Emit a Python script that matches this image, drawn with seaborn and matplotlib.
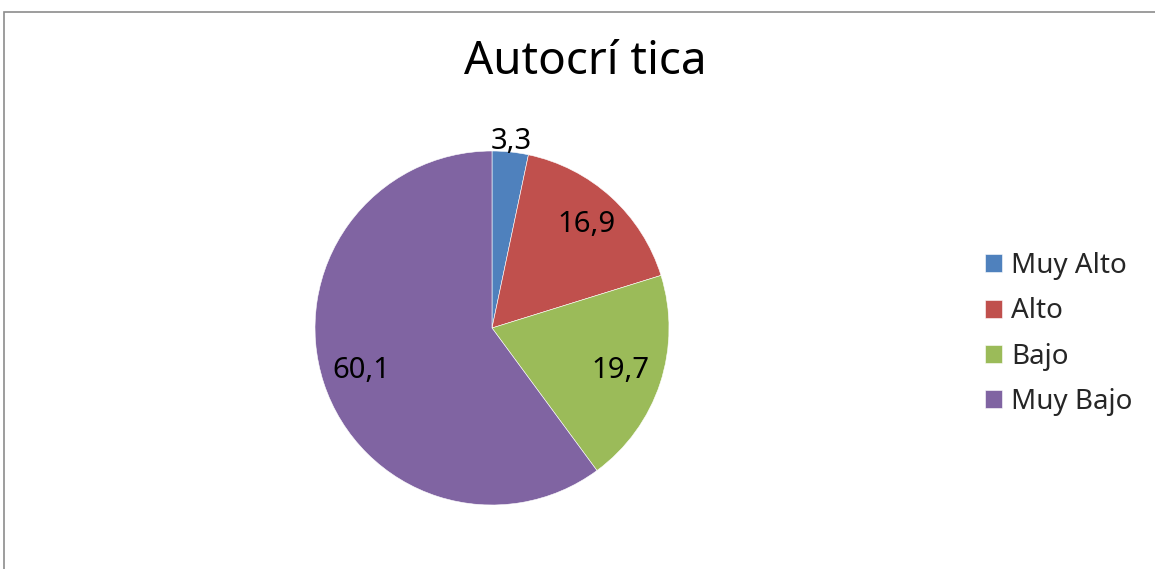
import numpy as np
import matplotlib
matplotlib.use("Agg")
import matplotlib.pyplot as plt
from matplotlib.patches import Rectangle
import seaborn as sns

# Chart data
categories = ["Muy Alto", "Alto", "Bajo", "Muy Bajo"]
values = [3.3, 16.9, 19.7, 60.1]
value_labels = ["3,3", "16,9", "19,7", "60,1"]
title = "Autocrí tica"

sns.set_theme(style="white")
plt.rcParams['font.family'] = ['Noto Sans', 'DejaVu Sans']

# Excel 2007 style palette
colors = sns.color_palette(["#4F81BD", "#C0504D", "#9BBB59", "#8064A2"])

W, H = 1155, 569
fig = plt.figure(figsize=(W / 100, H / 100), dpi=100)
fig.patch.set_facecolor("white")

# chart area border (top and left visible)
fig.patches.append(Rectangle((4 / W, -0.1), 1.2, 1 - 12 / H + 0.1,
                             transform=fig.transFigure, fill=False,
                             edgecolor="#8c8c8c", linewidth=1.2))

# pie axes: center (492, 328), radius 177 px
cx, cy, r = 492, 328, 177
ax = fig.add_axes([(cx - r) / W, 1 - (cy + r) / H, 2 * r / W, 2 * r / H])
wedges, _ = ax.pie(values, colors=colors, startangle=90, counterclock=False,
                   radius=1, wedgeprops=dict(edgecolor="white", linewidth=0.4))
ax.set_xlim(-1, 1)
ax.set_ylim(-1, 1)
ax.set_aspect("equal")
ax.axis("off")

# data labels
dists = [1.06, 0.79, 0.765, 0.775]
for w, lab, d in zip(wedges, value_labels, dists):
    ang = np.deg2rad((w.theta1 + w.theta2) / 2)
    ax.text(d * np.cos(ang), d * np.sin(ang), lab, ha="center", va="center",
            fontsize=21, color="black", clip_on=False)

fig.text(585 / W, 1 - 62 / H, title, ha="center", va="center",
         fontsize=33, color="black")

fig.legend(wedges, categories, loc="center left",
           bbox_to_anchor=(985 / W, 1 - 334 / H), frameon=False,
           fontsize=20, handlelength=0.62, handleheight=0.62,
           handletextpad=0.33, labelspacing=0.62, borderpad=0,
           borderaxespad=0)

fig.savefig("out.png", dpi=100, facecolor="white")
